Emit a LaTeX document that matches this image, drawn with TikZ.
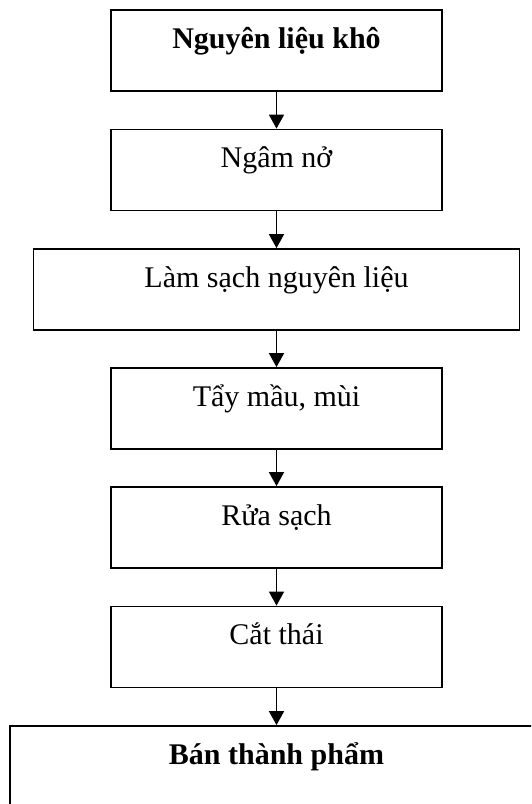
\documentclass[tikz,border=0pt]{standalone}
\usepackage{fontspec}
\setmainfont{Liberation Serif}
\usetikzlibrary{arrows.meta}

\tikzset{
  stepbox/.style={draw, line width=1.8pt, rectangle, minimum height=81pt,
    inner sep=0pt, font=\fontsize{30}{35}\selectfont,
    text height=20pt, text depth=25pt},
  narrowbox/.style={stepbox, minimum width=331pt},
  flowarrow/.style={line width=1.8pt, -{Triangle[width=15pt,length=14pt]}}
}

\begin{document}
\begin{tikzpicture}[x=1pt, y=-1pt]
  \useasboundingbox (0,0) rectangle (531,804);
  \clip (0,0) rectangle (531,804);

  \node[narrowbox] (raw)   at (276.5, 50.5)  {\bfseries Nguyên liệu khô};
  \node[narrowbox] (soak)  at (276.5, 170)   {Ngâm nở};
  \node[stepbox, minimum width=486pt] (clean) at (276.5, 289.5) {Làm sạch nguyên liệu};
  \node[narrowbox] (bleach) at (276.5, 408.5) {Tẩy mầu, mùi};
  \node[narrowbox] (rinse) at (276.5, 527.5) {Rửa sạch};
  \node[narrowbox] (slice) at (276.5, 647)   {Cắt thái};
  \node[stepbox, minimum width=533pt] (semi) at (276.5, 766.5) {\bfseries Bán thành phẩm};

  \draw[flowarrow] (raw.south)    -- (soak.north);
  \draw[flowarrow] (soak.south)   -- (clean.north);
  \draw[flowarrow] (clean.south)  -- (bleach.north);
  \draw[flowarrow] (bleach.south) -- (rinse.north);
  \draw[flowarrow] (rinse.south)  -- (slice.north);
  \draw[flowarrow] (slice.south)  -- (semi.north);
\end{tikzpicture}
\end{document}
